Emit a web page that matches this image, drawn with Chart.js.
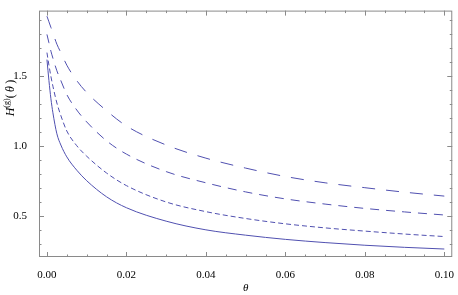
<!DOCTYPE html>
<html>
<head>
<meta charset="utf-8">
<script src="https://cdn.jsdelivr.net/npm/chart.js@4.4.1/dist/chart.umd.min.js"></script>
<style>
    html, body { margin: 0; padding: 0; background: #fff; }
    #wrap { width: 458px; height: 295px; }
</style>
</head>
<body>
<div id="wrap"><canvas id="grafH"></canvas></div>
<script>
// ===== DATOS =====
const thetaVals = [0, 0.0005, 0.001, 0.0015, 0.0025, 0.0035, 0.005, 0.0075, 0.01, 0.015, 0.02, 0.03, 0.04, 0.05, 0.06, 0.07, 0.08, 0.09, 0.1]
const hSolida   = [1.62, 1.47, 1.34, 1.24, 1.09, 1.01, 0.925, 0.83, 0.755, 0.64, 0.562, 0.466, 0.404, 0.366, 0.336, 0.313, 0.294, 0.279, 0.267]
const hCorta    = [1.67, 1.58, 1.50, 1.43, 1.31, 1.22, 1.11, 1.005, 0.93, 0.81, 0.72, 0.603, 0.534, 0.485, 0.447, 0.418, 0.395, 0.374, 0.356]
const hMedia    = [1.80, 1.74, 1.68, 1.63, 1.54, 1.47, 1.37, 1.26, 1.175, 1.04, 0.945, 0.82, 0.74, 0.675, 0.625, 0.588, 0.557, 0.532, 0.51]
const hLarga    = [1.93, 1.89, 1.85, 1.81, 1.73, 1.67, 1.58, 1.47, 1.385, 1.255, 1.146, 1.01, 0.916, 0.845, 0.785, 0.74, 0.705, 0.673, 0.645]

const xTicksMayores = [0, 0.02, 0.04, 0.06, 0.08, 0.1]
const yTicksMayores = [0.5, 1.0, 1.5]

const colorLinea = "rgb(80,80,176)"
const fuente = "'Liberation Serif', 'Times New Roman', serif"

function serie(vals, dash) {
    return {
        data: thetaVals.map((t, i) => ({ x: t, y: vals[i] })),
        borderColor: colorLinea,
        borderWidth: 1,
        borderDash: dash,
        pointRadius: 0,
        fill: false,
        cubicInterpolationMode: "monotone"
    }
}

// marco tipo Mathematica con ticks hacia adentro
const marcoPlugin = {
    id: "marco",
    afterDraw(chart) {
        const ctx = chart.ctx
        const a = chart.chartArea
        const sx = chart.scales.x
        const sy = chart.scales.y
        ctx.save()
        ctx.strokeStyle = "#8a8a8a"
        ctx.lineWidth = 1
        ctx.strokeRect(a.left + 0.5, a.top + 0.5, a.right - a.left - 1, a.bottom - a.top - 1)

        ctx.beginPath()
        for (let k = 0; k <= 20; k++) {
            const v = k * 0.005
            const px = Math.round(sx.getPixelForValue(v)) + 0.5
            const len = (k % 4 === 0) ? 5 : 2.5
            ctx.moveTo(px, a.bottom); ctx.lineTo(px, a.bottom - len)
            ctx.moveTo(px, a.top); ctx.lineTo(px, a.top + len)
        }
        for (let k = 3; k <= 19; k++) {
            const v = k * 0.1
            const py = Math.round(sy.getPixelForValue(v)) + 0.5
            const len = (k % 5 === 0) ? 5 : 2.5
            ctx.moveTo(a.left, py); ctx.lineTo(a.left + len, py)
            ctx.moveTo(a.right, py); ctx.lineTo(a.right - len, py)
        }
        ctx.stroke()

        // etiqueta eje x
        ctx.fillStyle = "#000"
        ctx.textAlign = "center"
        ctx.textBaseline = "middle"
        ctx.font = "italic 11px " + fuente
        ctx.fillText("θ", (a.left + a.right) / 2, 288)

        // etiqueta eje y: H^(g)( θ )
        ctx.translate(11, 98)
        ctx.rotate(-Math.PI / 2)
        ctx.textAlign = "left"
        const partes = [
            { t: "H", f: "italic 12px ", dy: 0 },
            { t: "(g)", f: "8px ", dy: -4 },
            { t: "(\u2009", f: "12px ", dy: 0 },
            { t: "θ", f: "italic 12px ", dy: 0 },
            { t: "\u2009)", f: "12px ", dy: 0 }
        ]
        let ancho = 0
        partes.forEach(p => { ctx.font = p.f + fuente; ancho += ctx.measureText(p.t).width })
        let x = -ancho / 2
        partes.forEach(p => {
            ctx.font = p.f + fuente
            ctx.fillText(p.t, x, p.dy)
            x += ctx.measureText(p.t).width
        })
        ctx.restore()
    }
}

new Chart(document.getElementById("grafH").getContext("2d"), {
    type: "line",
    data: {
        datasets: [
            serie(hSolida, []),
            serie(hCorta, [5, 3]),
            serie(hMedia, [9, 7]),
            serie(hLarga, [13, 11])
        ]
    },
    options: {
        responsive: true,
        maintainAspectRatio: false,
        animation: false,
        layout: { padding: { top: 1, right: 3, left: 0, bottom: 0 } },
        plugins: { legend: { display: false }, tooltip: { enabled: false } },
        scales: {
            x: {
                type: "linear",
                min: -0.002,
                max: 0.102,
                grid: { display: false },
                border: { display: false },
                afterFit: s => { s.height = 38 },
                afterBuildTicks: s => { s.ticks = xTicksMayores.map(v => ({ value: v })) },
                ticks: {
                    padding: 4,
                    color: "#000",
                    font: { family: fuente, size: 11 },
                    callback: v => v.toFixed(2)
                }
            },
            y: {
                type: "linear",
                min: 0.21,
                max: 1.97,
                grid: { display: false },
                border: { display: false },
                afterFit: s => { s.width = 39 },
                afterBuildTicks: s => { s.ticks = yTicksMayores.map(v => ({ value: v })) },
                ticks: {
                    padding: 4,
                    color: "#000",
                    font: { family: fuente, size: 11 },
                    callback: v => v.toFixed(1)
                }
            }
        }
    },
    plugins: [marcoPlugin]
})
</script>
</body>
</html>
